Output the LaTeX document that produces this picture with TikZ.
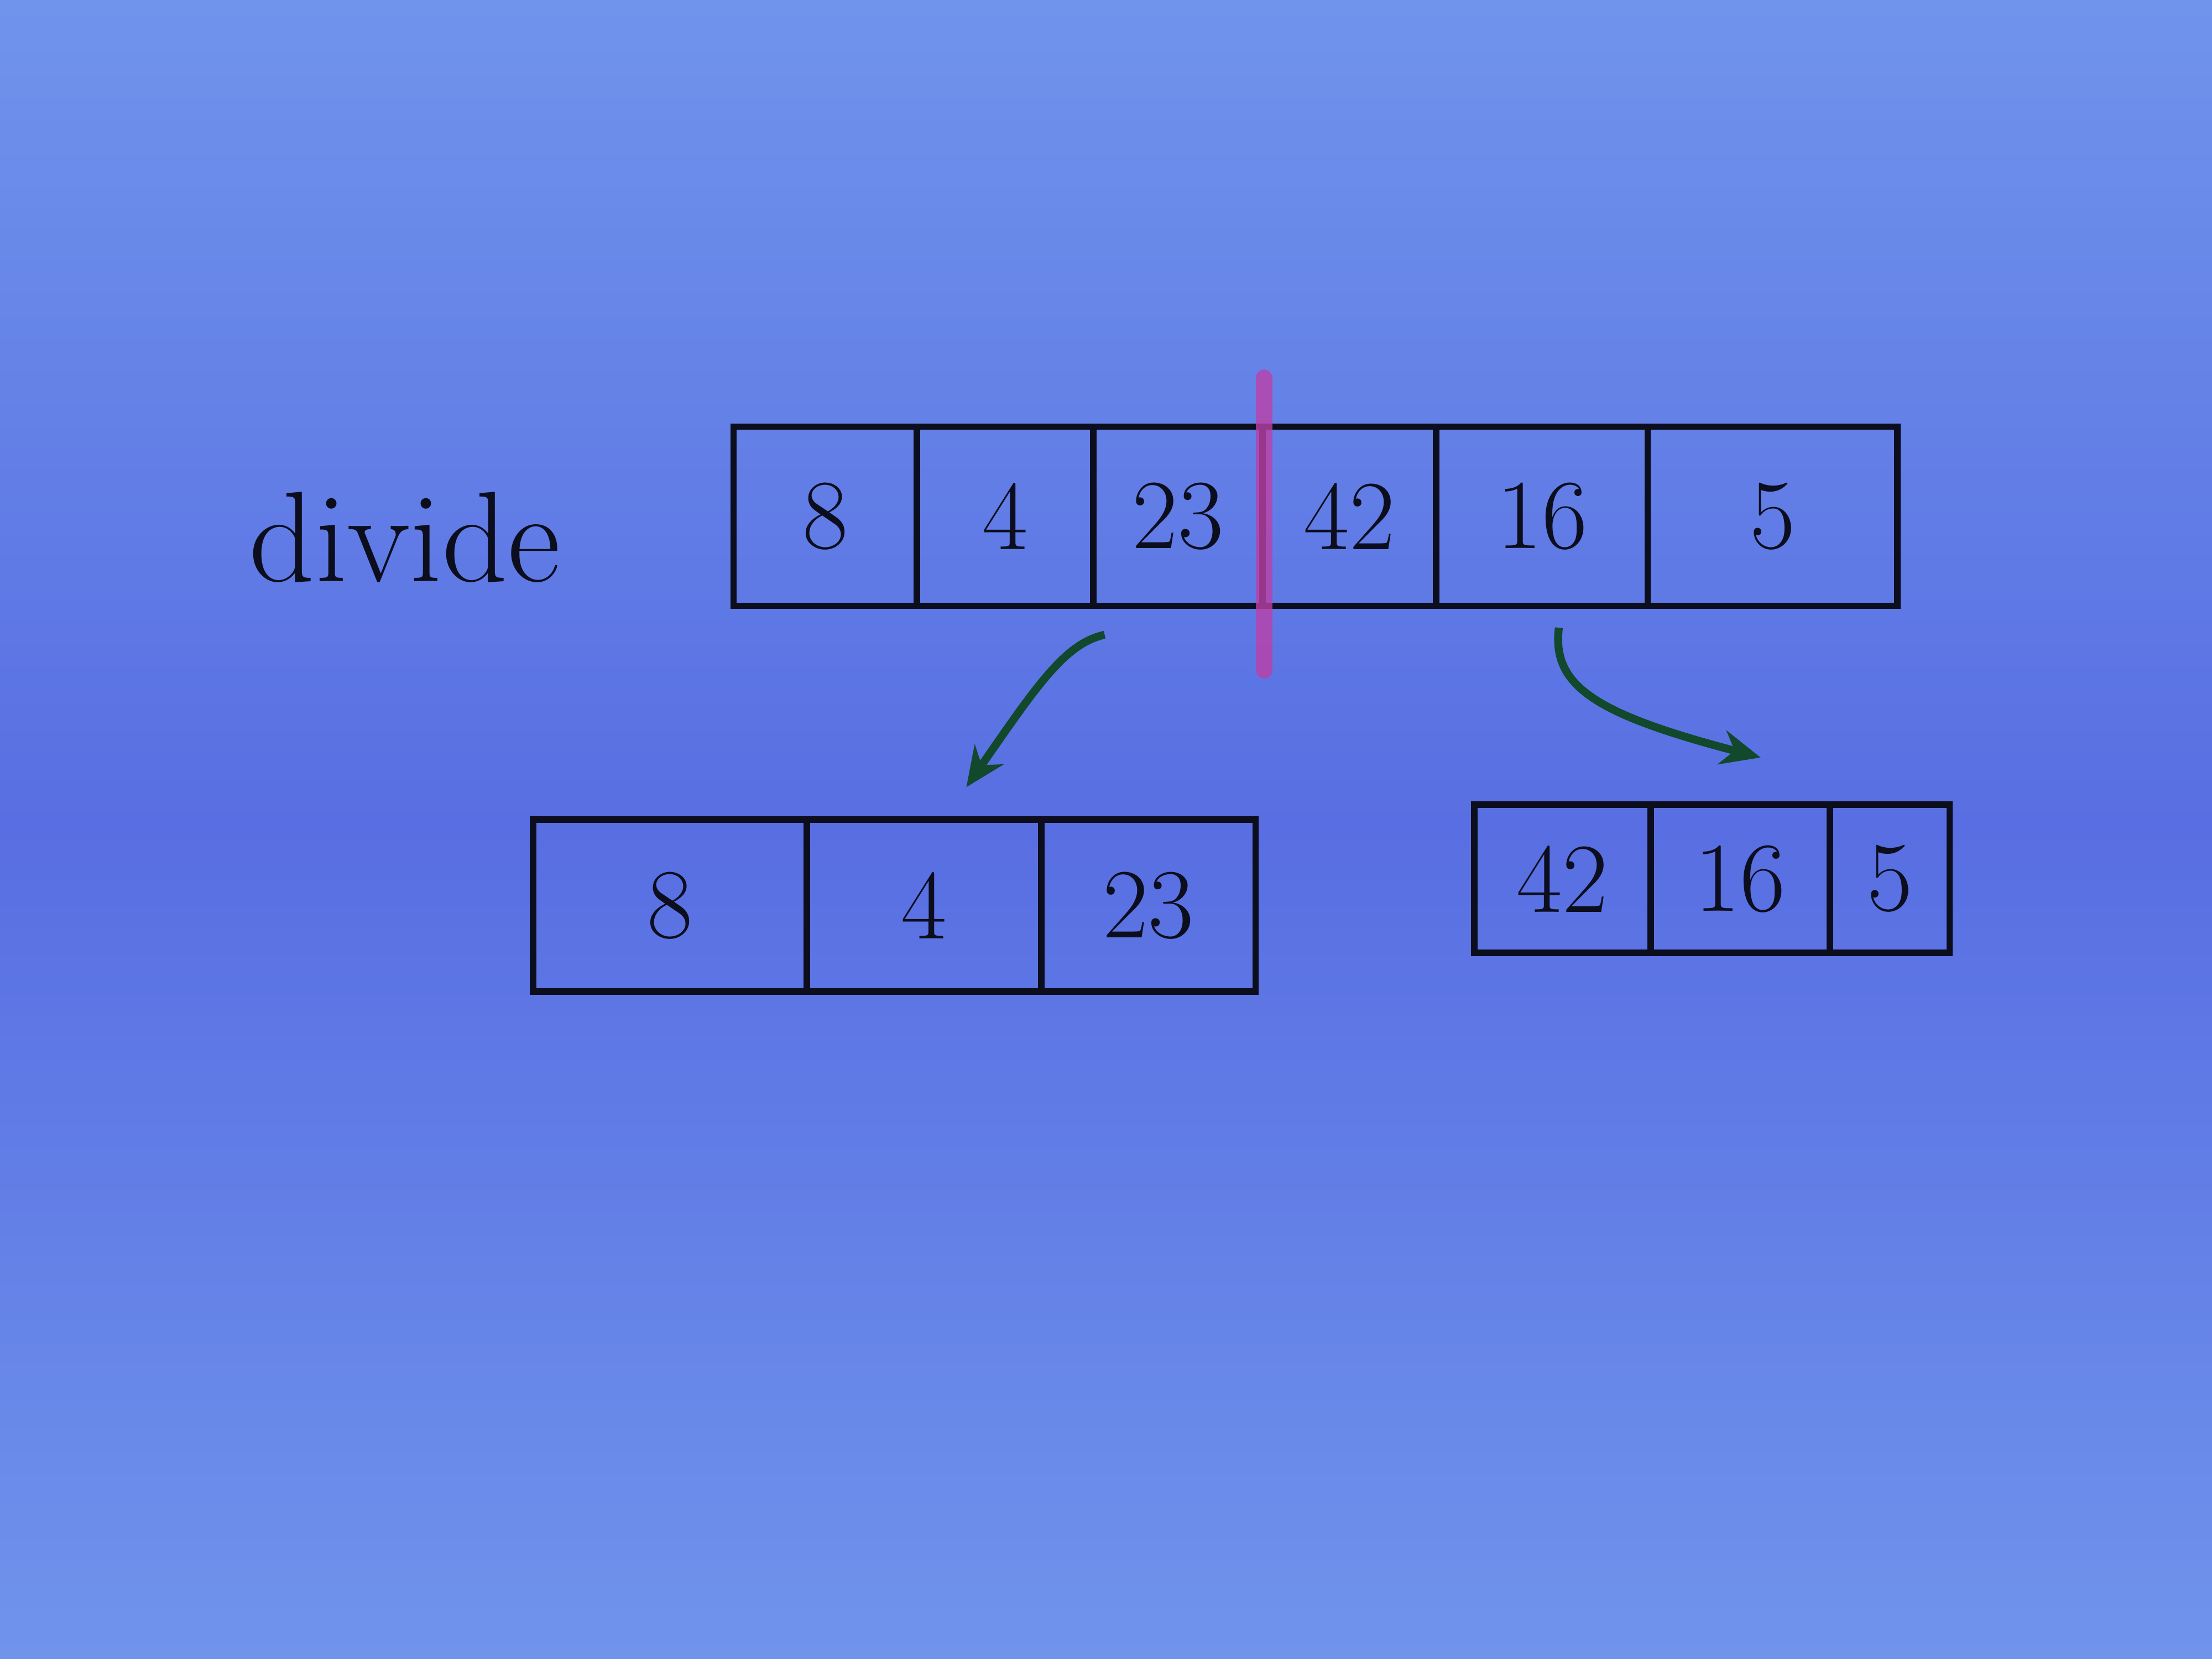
\documentclass[tikz,border=0pt]{standalone}
\usepackage{xcolor}
\usepackage{tikz}
\usetikzlibrary{arrows.meta}

\definecolor{paper}{RGB}{88,110,226}
\definecolor{paperlight}{RGB}{112,148,236}
\definecolor{ink}{RGB}{12,14,30}
\definecolor{marker}{RGB}{188,64,168}
\definecolor{pen}{RGB}{18,72,44}

\tikzset{
    cell/.style={draw=ink, line width=1.3pt, minimum height=#1, inner sep=0pt, outer sep=0pt,
        text=ink, font=\fontsize{20}{24}\selectfont},
    split/.style={-{Stealth[length=8pt,width=7pt]}, line width=1.6pt, pen}
}

\begin{document}
\begin{tikzpicture}
    \shade[top color=paperlight, bottom color=paperlight, middle color=paper] (0,0) rectangle (15.68,11.76);
    \node[ink, font=\fontsize{26}{30}\selectfont] (label) at (2.87,7.95) {divide};
    \foreach \n/\x/\w/\v in {1/5.85/1.30/8, 2/7.125/1.25/4, 3/8.35/1.20/23, 4/9.565/1.23/42, 5/10.93/1.50/16, 6/12.565/1.77/5}
        \node[cell=1.27cm, minimum width=\w cm] (top\n) at (\x,8.1) {\v};
    \foreach \n/\x/\w/\v in {1/4.75/1.94/8, 2/6.55/1.66/4, 3/8.14/1.52/23}
        \node[cell=1.22cm, minimum width=\w cm] (left\n) at (\x,5.34) {\v};
    \foreach \n/\x/\w/\v in {1/11.075/1.25/42, 2/12.335/1.27/16, 3/13.395/0.85/5}
        \node[cell=1.05cm, minimum width=\w cm] (right\n) at (\x,5.53) {\v};
    \draw[marker, line width=3.4pt, opacity=0.8, line cap=round] (8.96,9.08) -- (8.96,7.01);
    \coordinate (lfrom) at (7.83,7.26);
    \coordinate (lto) at (6.85,6.18);
    \coordinate (rfrom) at (11.05,7.31);
    \coordinate (rto) at (12.48,6.39);
    \draw[split] (lfrom) .. controls (7.55,7.2) and (7.35,6.9) .. (lto);
    \draw[split] (rfrom) .. controls (11.0,6.9) and (11.3,6.7) .. (rto);
\end{tikzpicture}
\end{document}
